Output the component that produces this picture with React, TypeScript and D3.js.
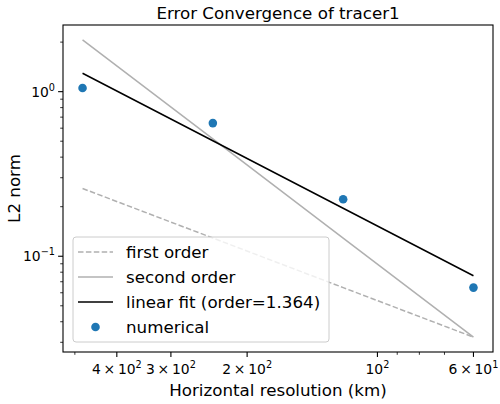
import React from "react";
import * as d3 from "d3";

const resolution = [480, 240, 120, 60];
const l2norm = [1.053, 0.644, 0.222, 0.0645];
const xTickValues = [400, 300, 200, 100, 60];
const xTickMantissa = ["4", "3", "2", "", "6"];
const xTickExp = ["2", "2", "2", "2", "1"];
const yTickValues = [1, 0.1];
const yTickExp = ["0", "\u22121"];
const legendLabels = ["first order", "second order", "linear fit (order=1.364)", "numerical"];
const titleText = "Error Convergence of tracer1";
const xLabelText = "Horizontal resolution (km)";
const yLabelText = "L2 norm";

const W = 500, H = 404;
const L = 63, R = 493, T = 25, B = 352;
const FONT = "DejaVu Sans, sans-serif";

export default function App() {
  const last = l2norm[l2norm.length - 1];
  const dxLast = resolution[resolution.length - 1];
  const first = resolution.map((d) => 0.5 * last * (d / dxLast));
  const second = resolution.map((d) => 0.5 * last * (d / dxLast) ** 2);
  const lx = resolution.map(Math.log10), ly = l2norm.map(Math.log10);
  const mx = d3.mean(lx)!, my = d3.mean(ly)!;
  const slope = d3.sum(lx.map((v, i) => (v - mx) * (ly[i] - my))) / d3.sum(lx.map((v) => (v - mx) ** 2));
  const fit = resolution.map((d) => 10 ** (my + slope * (Math.log10(d) - mx)));

  const xl = d3.extent(lx) as [number, number];
  const xm = (xl[1] - xl[0]) * 0.05;
  const x = d3.scaleLog().domain([10 ** (xl[1] + xm), 10 ** (xl[0] - xm)]).range([L, R]);
  const allY = [...l2norm, ...first, ...second, ...fit].map(Math.log10);
  const yl = d3.extent(allY) as [number, number];
  const ym = (yl[1] - yl[0]) * 0.05;
  const y = d3.scaleLog().domain([10 ** (yl[0] - ym), 10 ** (yl[1] + ym)]).range([B, T]);

  const line = d3.line<number>().x((_, i) => x(resolution[i])).y((v) => y(v));

  const xMinor: number[] = [];
  for (const k of [1, 2]) for (let m = 2; m <= 9; m++) {
    const v = m * 10 ** k;
    const [a, b] = [x.domain()[1], x.domain()[0]];
    if (v >= a && v <= b && !xTickValues.includes(v)) xMinor.push(v);
  }
  const yMinor: number[] = [];
  for (const k of [-2, -1, 0]) for (let m = 2; m <= 9; m++) {
    const v = m * 10 ** k;
    if (v >= y.domain()[0] && v <= y.domain()[1]) yMinor.push(v);
  }

  const grey = "#b0b0b0";
  const lgX = 73, lgY = 237, lgW = 256, lgH = 105;
  const rowY = (i: number) => lgY + 15 + i * 25;

  return (
    <svg width={W} height={H} style={{ position: "absolute", left: 0, top: 0, background: "#fff" }} fontFamily={FONT}>
      <rect x={0} y={0} width={W} height={H} fill="#fff" />
      <text x={(L + R) / 2} y={19} textAnchor="middle" fontSize={16.7} fill="#000">{titleText}</text>
      <path d={line(first)!} fill="none" stroke={grey} strokeWidth={1.5} strokeDasharray="5.5,2.4" />
      <path d={line(second)!} fill="none" stroke={grey} strokeWidth={1.5} />
      <path d={line(fit)!} fill="none" stroke="#000" strokeWidth={1.5} />
      {resolution.map((d, i) => (
        <circle key={i} cx={x(d)} cy={y(l2norm[i])} r={4.3} fill="#1f77b4" />
      ))}
      <rect x={L} y={T} width={R - L} height={B - T} fill="none" stroke="#000" strokeWidth={1.1} />
      {xTickValues.map((v, i) => (
        <g key={"xt" + i} transform={`translate(${x(v)},0)`}>
          <line y1={B} y2={B + 4.9} stroke="#000" strokeWidth={1.1} />
          <text y={B + 22} textAnchor="middle" fontSize={13.9} fill="#000">
            {xTickMantissa[i] ? xTickMantissa[i] + "\u2009\u00d7\u2009" : ""}10
            <tspan dy={-6} fontSize={9.7}>{xTickExp[i]}</tspan>
          </text>
        </g>
      ))}
      {xMinor.map((v, i) => (
        <line key={"xm" + i} x1={x(v)} x2={x(v)} y1={B} y2={B + 2.8} stroke="#000" strokeWidth={0.8} />
      ))}
      {yTickValues.map((v, i) => (
        <g key={"yt" + i} transform={`translate(0,${y(v)})`}>
          <line x1={L} x2={L - 4.9} stroke="#000" strokeWidth={1.1} />
          <text x={L - 8} y={5} textAnchor="end" fontSize={13.9} fill="#000">
            10<tspan dy={-6} fontSize={9.7}>{yTickExp[i]}</tspan>
          </text>
        </g>
      ))}
      {yMinor.map((v, i) => (
        <line key={"ym" + i} x1={L} x2={L - 2.8} y1={y(v)} y2={y(v)} stroke="#000" strokeWidth={0.8} />
      ))}
      <text x={(L + R) / 2} y={396} textAnchor="middle" fontSize={16.7} fill="#000">{xLabelText}</text>
      <text transform={`translate(20,${(T + B) / 2}) rotate(-90)`} textAnchor="middle" fontSize={16.7} fill="#000">{yLabelText}</text>
      <g>
        <rect x={lgX} y={lgY} width={lgW} height={lgH} rx={3} fill="#fff" fillOpacity={0.8} stroke="#cccccc" strokeWidth={1} />
        <line x1={78} x2={113} y1={rowY(0)} y2={rowY(0)} stroke={grey} strokeWidth={1.5} strokeDasharray="5.5,2.4" />
        <line x1={78} x2={113} y1={rowY(1)} y2={rowY(1)} stroke={grey} strokeWidth={1.5} />
        <line x1={78} x2={113} y1={rowY(2)} y2={rowY(2)} stroke="#000" strokeWidth={1.5} />
        <circle cx={95.5} cy={rowY(3)} r={4.3} fill="#1f77b4" />
        {legendLabels.map((t, i) => (
          <text key={t} x={126} y={rowY(i) + 6} fontSize={16.7} fill="#000">{t}</text>
        ))}
      </g>
    </svg>
  );
}
